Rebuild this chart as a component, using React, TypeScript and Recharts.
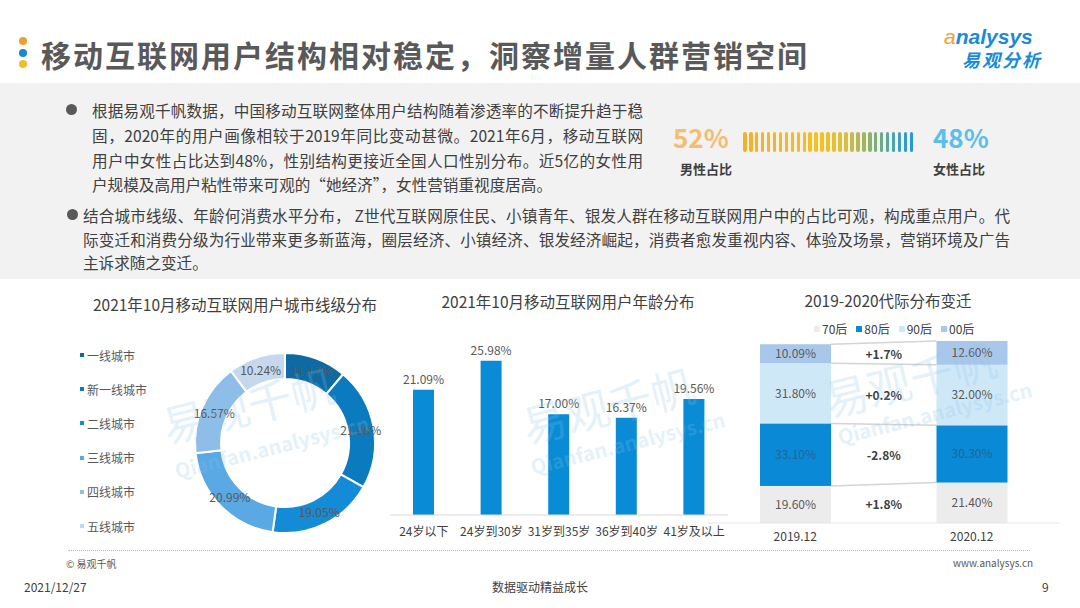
import React from 'react';
import { PieChart, Pie, Cell, BarChart, Bar, XAxis, YAxis, LabelList } from 'recharts';

// ---------- data ----------
const CITY_NAMES = ['一线城市', '新一线城市', '二线城市', '三线城市', '四线城市', '五线城市'];
const CITY_VALUES = [11.17, 21.98, 19.05, 20.99, 16.57, 10.24];
const CITY_COLORS = ['#0f6aa4', '#0b7bc0', '#138bd6', '#5aa8e4', '#8ebde8', '#c6d8ee'];

const AGE_LABELS = ['24岁以下', '24岁到30岁', '31岁到35岁', '36岁到40岁', '41岁及以上'];
const AGE_VALUES = [21.09, 25.98, 17.0, 16.37, 19.56];

const GEN_PERIODS = ['2019.12', '2020.12'];
const GEN_NAMES = ['70后', '80后', '90后', '00后'];
const GEN_70 = [19.6, 21.4];
const GEN_80 = [33.1, 30.3];
const GEN_90 = [31.8, 32.0];
const GEN_00 = [10.09, 12.6];
const GEN_CHANGE = ['+1.8%', '-2.8%', '+0.2%', '+1.7%'];
const GEN_COLORS = ['#ececec', '#0a8ad6', '#cfe8f8', '#a9c7ea'];
const GEN_LABEL_COLORS = ['#595959', '#1f6596', '#595959', '#595959'];

const GENDER_LABELS = ['男性占比', '女性占比'];
const GENDER_VALUES = [52, 48];

const PARA1 = [
  '根据易观千帆数据，中国移动互联网整体用户结构随着渗透率的不断提升趋于稳',
  '固，2020年的用户画像相较于2019年同比变动甚微。2021年6月，移动互联网',
  '用户中女性占比达到48%，性别结构更接近全国人口性别分布。近5亿的女性用',
  '户规模及高用户粘性带来可观的“她经济”，女性营销重视度居高。',
];
const PARA2 = [
  '结合城市线级、年龄何消费水平分布， Z世代互联网原住民、小镇青年、银发人群在移动互联网用户中的占比可观，构成重点用户。代',
  '际变迁和消费分级为行业带来更多新蓝海，圈层经济、小镇经济、银发经济崛起，消费者愈发重视内容、体验及场景，营销环境及广告',
  '主诉求随之变迁。',
];

// ---------- helpers ----------
const FONT = '"Noto Sans CJK SC", "Noto Sans", sans-serif';
const GEN_SERIES = [GEN_70, GEN_80, GEN_90, GEN_00];
const GEN_KEYS = ['g70', 'g80', 'g90', 'g00'];
const genData = GEN_PERIODS.map((p, i) => ({
  period: p,
  g70: GEN_70[i],
  g80: GEN_80[i],
  g90: GEN_90[i],
  g00: GEN_00[i],
}));
const cityData = CITY_NAMES.map((n, i) => ({ name: n, value: CITY_VALUES[i] }));
const ageData = AGE_LABELS.map((n, i) => ({ name: n, value: AGE_VALUES[i] }));

const STACK_W = 353;
const BAND = STACK_W / GEN_PERIODS.length;

const STRIPES = 29;
const STOPS: [number, number[]][] = [
  [0, [240, 178, 42]],
  [0.45, [245, 194, 27]],
  [0.6, [220, 192, 58]],
  [0.75, [143, 178, 106]],
  [0.88, [78, 165, 164]],
  [1, [40, 152, 216]],
];
function stripeColor(t: number) {
  for (let i = 0; i < STOPS.length - 1; i++) {
    const [a, ca] = STOPS[i];
    const [b, cb] = STOPS[i + 1];
    if (t >= a && t <= b) {
      const f = (t - a) / (b - a);
      const c = ca.map((v, j) => Math.round(v + (cb[j] - v) * f));
      return `rgb(${c[0]},${c[1]},${c[2]})`;
    }
  }
  return 'rgb(40,152,216)';
}

const RADIAN = Math.PI / 180;
const pieLabel = (p: any) => {
  const r = (p.innerRadius + p.outerRadius) / 2;
  const x = p.cx + r * Math.cos(-p.midAngle * RADIAN);
  const y = p.cy + r * Math.sin(-p.midAngle * RADIAN);
  return (
    <text x={x} y={y} textAnchor="middle" dominantBaseline="central" fontSize={12} fill="#595959">
      {p.value.toFixed(2)}%
    </text>
  );
};

const makeShape = (s: number) => (props: any) => {
  const { x, y, width, height, index, fill } = props;
  const rect = <rect x={x} y={y} width={width} height={height} fill={fill} />;
  if (index !== 0) return rect;
  const v0 = GEN_SERIES[s][0];
  const k = height / v0;
  let below0 = 0;
  let below1 = 0;
  for (let j = 0; j < s; j++) {
    below0 += GEN_SERIES[j][0];
    below1 += GEN_SERIES[j][1];
  }
  const base = y + height + below0 * k;
  const top1 = base - (below1 + GEN_SERIES[s][1]) * k;
  const bot1 = base - below1 * k;
  const xl = x + width;
  const xr = x + BAND;
  const cy = ((y + y + height) / 2 + (top1 + bot1) / 2) / 2;
  return (
    <g>
      {rect}
      <line x1={xl} y1={y} x2={xr} y2={top1} stroke="#d4d4d4" strokeWidth={1.5} />
      <text x={(xl + xr) / 2} y={cy} textAnchor="middle" dominantBaseline="central" fontSize={12} fontWeight={700} fill="#404040">
        {GEN_CHANGE[s]}
      </text>
    </g>
  );
};

const abs = (l: number, t: number, extra: any = {}) => ({ position: 'absolute' as const, left: l, top: t, ...extra });

export default function App() {
  return (
    <div style={{ position: 'absolute', left: 0, top: 0, width: 1080, height: 608, overflow: 'hidden', background: '#fff', fontFamily: FONT, color: '#404040' }}>
      {/* title dots */}
      <div style={abs(19, 37, { width: 8, height: 8, borderRadius: 4, background: '#eea02e' })} />
      <div style={abs(19, 49, { width: 8, height: 8, borderRadius: 4, background: '#1a88cc' })} />
      <div style={abs(19, 60, { width: 8, height: 8, borderRadius: 4, background: '#f0bd24' })} />
      <div style={abs(41, 34, { fontSize: 30, lineHeight: '40px', fontWeight: 700, color: '#595959', whiteSpace: 'nowrap', letterSpacing: 2 })}>
        移动互联网用户结构相对稳定，洞察增量人群营销空间
      </div>
      {/* logo */}
      <div style={abs(944, 26, { fontSize: 21, lineHeight: '21px', fontWeight: 700, fontStyle: 'italic', whiteSpace: 'nowrap', fontFamily: '"Liberation Sans", sans-serif' })}>
        <span style={{ color: '#f0a030', fontWeight: 400 }}>a</span>
        <span style={{ color: '#1a8ad4' }}>nalysys</span>
      </div>
      <div style={abs(962, 50, { fontSize: 18, lineHeight: '18px', fontWeight: 700, fontStyle: 'italic', color: '#1a8ad4', whiteSpace: 'nowrap', letterSpacing: 2 })}>
        易观分析
      </div>

      {/* grey band */}
      <div style={abs(0, 83, { width: 1080, height: 196, background: '#f2f2f2' })} />
      <div style={abs(66, 104, { width: 11, height: 11, borderRadius: 6, background: '#595959' })} />
      {PARA1.map((t, i) => (
        <div
          key={i}
          style={abs(92, 100 + i * 24.8, {
            width: 551,
            fontSize: 15.6,
            lineHeight: '20px',
            whiteSpace: 'nowrap',
            color: '#404040',
            textAlign: 'justify',
            textAlignLast: i < PARA1.length - 1 ? 'justify' : 'left',
          })}
        >
          {t}
        </div>
      ))}
      <div style={abs(67, 209, { width: 11, height: 11, borderRadius: 6, background: '#595959' })} />
      {PARA2.map((t, i) => (
        <div
          key={i}
          style={abs(83, 205 + i * 23.5, {
            width: 927,
            fontSize: 15.6,
            lineHeight: '20px',
            whiteSpace: 'nowrap',
            color: '#404040',
            textAlign: 'justify',
            textAlignLast: i < PARA2.length - 1 ? 'justify' : 'left',
          })}
        >
          {t}
        </div>
      ))}

      {/* gender */}
      <div style={abs(673, 121, { fontSize: 26, lineHeight: '32px', fontWeight: 700, color: '#f6bd72', whiteSpace: 'nowrap' })}>
        {GENDER_VALUES[0]}%
      </div>
      <div style={abs(933, 121, { fontSize: 26, lineHeight: '32px', fontWeight: 700, color: '#5bbfea', whiteSpace: 'nowrap' })}>
        {GENDER_VALUES[1]}%
      </div>
      <div style={abs(680, 160, { fontSize: 13, lineHeight: '18px', fontWeight: 700, color: '#404040', whiteSpace: 'nowrap' })}>
        {GENDER_LABELS[0]}
      </div>
      <div style={abs(933, 160, { fontSize: 13, lineHeight: '18px', fontWeight: 700, color: '#404040', whiteSpace: 'nowrap' })}>
        {GENDER_LABELS[1]}
      </div>
      {Array.from({ length: STRIPES }).map((_, i) => (
        <div
          key={i}
          style={abs(743 + i * 5.95, 132, { width: 3.6, height: 20, borderRadius: 2, background: stripeColor(i / (STRIPES - 1)) })}
        />
      ))}

      {/* chart titles */}
      <div style={abs(60, 294, { width: 350, textAlign: 'center', fontSize: 15.5, lineHeight: '20px', color: '#404040', whiteSpace: 'nowrap' })}>
        2021年10月移动互联网用户城市线级分布
      </div>
      <div style={abs(393, 291, { width: 350, textAlign: 'center', fontSize: 15.5, lineHeight: '20px', color: '#404040', whiteSpace: 'nowrap' })}>
        2021年10月移动互联网用户年龄分布
      </div>
      <div style={abs(738, 290, { width: 300, textAlign: 'center', fontSize: 15.5, lineHeight: '20px', color: '#404040', whiteSpace: 'nowrap' })}>
        2019-2020代际分布变迁
      </div>

      {/* pie legend */}
      {CITY_NAMES.map((n, i) => (
        <div key={n} style={abs(80, 346 + i * 34.2, { height: 18, display: 'flex', alignItems: 'center', fontSize: 12, color: '#595959', whiteSpace: 'nowrap' })}>
          <span style={{ display: 'inline-block', width: 4, height: 4, background: CITY_COLORS[i], marginRight: 3 }} />
          {n}
        </div>
      ))}

      {/* donut */}
      <div style={abs(185, 343)}>
        <PieChart width={200} height={200} margin={{ top: 0, right: 0, bottom: 0, left: 0 }}>
          <Pie
            data={cityData}
            dataKey="value"
            nameKey="name"
            cx={100}
            cy={100}
            innerRadius={64}
            outerRadius={90}
            startAngle={90}
            endAngle={-270}
            stroke="#ffffff"
            strokeWidth={2}
            label={pieLabel}
            labelLine={false}
            isAnimationActive={false}
          >
            {cityData.map((d, i) => (
              <Cell key={d.name} fill={CITY_COLORS[i]} />
            ))}
          </Pie>
        </PieChart>
      </div>

      {/* age bars */}
      <div style={abs(390, 330)}>
        <BarChart width={338} height={215} data={ageData} margin={{ top: 7, right: 0, left: 0, bottom: 0 }} barSize={21}>
          <XAxis
            dataKey="name"
            height={30}
            axisLine={{ stroke: '#d9d9d9' }}
            tickLine={false}
            tickSize={0}
            tickMargin={12}
            interval={0}
            tick={{ fontSize: 12, fill: '#404040' }}
          />
          <YAxis hide domain={[0, 30]} />
          <Bar dataKey="value" fill="#0a8bd6" isAnimationActive={false}>
            <LabelList dataKey="value" position="top" offset={6} fontSize={12} fill="#595959" formatter={(v: any) => `${Number(v).toFixed(2)}%`} />
          </Bar>
        </BarChart>
      </div>

      {/* generation legend */}
      <div style={abs(814, 320, { display: 'flex', alignItems: 'center', fontSize: 12, lineHeight: '18px', color: '#404040', whiteSpace: 'nowrap' })}>
        {GEN_NAMES.map((n, i) => (
          <span key={n} style={{ display: 'inline-flex', alignItems: 'center', marginRight: 9 }}>
            <span style={{ display: 'inline-block', width: 6, height: 6, background: GEN_COLORS[i], marginRight: 2 }} />
            {n}
          </span>
        ))}
      </div>

      {/* generation stacked bars */}
      <div style={abs(707, 320)}>
        <BarChart width={STACK_W} height={233} data={genData} margin={{ top: 14, right: 0, left: 0, bottom: 0 }} barSize={71}>
          <XAxis
            dataKey="period"
            height={30}
            axisLine={{ stroke: '#e6e6e6' }}
            tickLine={false}
            tickSize={0}
            tickMargin={9}
            tick={{ fontSize: 12, fill: '#404040' }}
          />
          <YAxis hide domain={[0, 100]} />
          {GEN_KEYS.map((k, s) => (
            <Bar key={k} dataKey={k} name={GEN_NAMES[s]} stackId="a" fill={GEN_COLORS[s]} shape={makeShape(s)} isAnimationActive={false}>
              <LabelList dataKey={k} position="center" fontSize={12} fill={GEN_LABEL_COLORS[s]} formatter={(v: any) => `${Number(v).toFixed(2)}%`} />
            </Bar>
          ))}
        </BarChart>
      </div>

      {/* watermarks */}
      <div style={abs(160, 372, { fontSize: 44, color: '#8cc3ea', opacity: 0.22, transform: 'rotate(-14deg)', whiteSpace: 'nowrap', pointerEvents: 'none' })}>易观千帆</div>
      <div style={abs(172, 432, { fontSize: 20, fontWeight: 700, color: '#8cc3ea', opacity: 0.22, transform: 'rotate(-14deg)', whiteSpace: 'nowrap', pointerEvents: 'none' })}>Qianfan.analysys.cn</div>
      <div style={abs(520, 372, { fontSize: 44, color: '#8cc3ea', opacity: 0.22, transform: 'rotate(-14deg)', whiteSpace: 'nowrap', pointerEvents: 'none' })}>易观千帆</div>
      <div style={abs(528, 428, { fontSize: 20, fontWeight: 700, color: '#8cc3ea', opacity: 0.22, transform: 'rotate(-14deg)', whiteSpace: 'nowrap', pointerEvents: 'none' })}>Qianfan.analysys.cn</div>
      <div style={abs(822, 346, { fontSize: 44, color: '#8cc3ea', opacity: 0.22, transform: 'rotate(-14deg)', whiteSpace: 'nowrap', pointerEvents: 'none' })}>易观千帆</div>
      <div style={abs(835, 398, { fontSize: 20, fontWeight: 700, color: '#8cc3ea', opacity: 0.22, transform: 'rotate(-14deg)', whiteSpace: 'nowrap', pointerEvents: 'none' })}>Qianfan.analysys.cn</div>

      {/* footer */}
      <div style={abs(68, 550, { width: 962, borderTop: '1px dotted #bdbdbd' })} />
      <div style={abs(66, 557, { fontSize: 10, lineHeight: '14px', color: '#595959', whiteSpace: 'nowrap' })}>© 易观千帆</div>
      <div style={abs(953, 556, { fontSize: 10, lineHeight: '14px', color: '#595959', whiteSpace: 'nowrap' })}>www.analysys.cn</div>
      <div style={abs(24, 579, { fontSize: 12, lineHeight: '16px', color: '#404040', whiteSpace: 'nowrap' })}>2021/12/27</div>
      <div style={abs(440, 579, { width: 200, textAlign: 'center', fontSize: 12, lineHeight: '16px', color: '#404040', whiteSpace: 'nowrap' })}>数据驱动精益成长</div>
      <div style={abs(1042, 579, { fontSize: 12, lineHeight: '16px', color: '#404040', whiteSpace: 'nowrap' })}>9</div>
    </div>
  );
}
